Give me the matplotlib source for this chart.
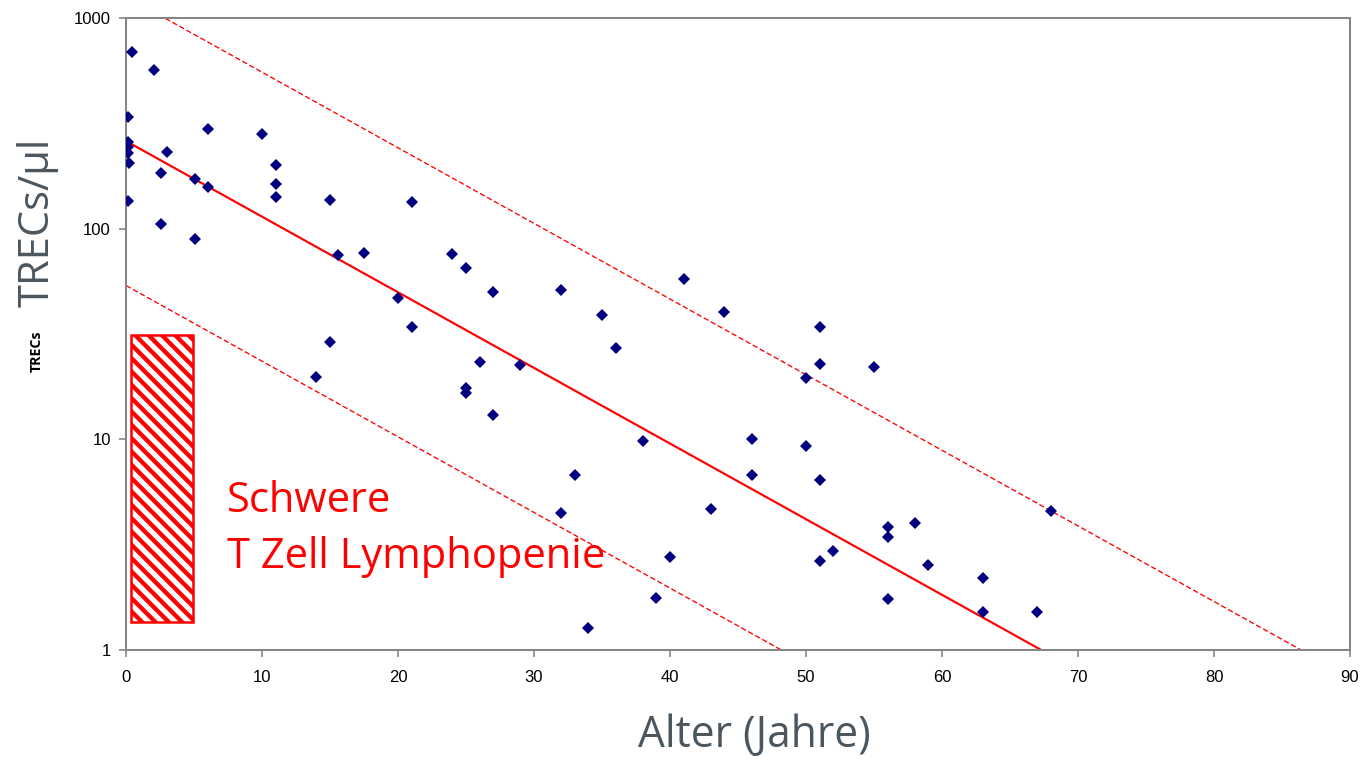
import numpy as np
import matplotlib
matplotlib.use('Agg')
import matplotlib.pyplot as plt
from matplotlib.patches import Rectangle

# Age (years) and TRECs/ul
age = [0.44, 2.06, 0.15, 0.15, 0.15, 0.15, 0.22, 0.15, 3.0, 2.57, 2.57, 5.07, 5.07,
       6.0, 6.0, 10.0, 11.0, 11.0, 11.0, 15.0, 21.0, 15.6, 17.5, 24.0, 25.0, 20.0,
       27.0, 32.0, 41.0, 44.0, 35.0, 36.0, 51.0, 21.0, 15.0, 26.0, 29.0, 51.0, 55.0,
       14.0, 50.0, 25.0, 25.0, 27.0, 38.0, 46.0, 50.0, 33.0, 46.0, 51.0, 32.0, 43.0,
       68.0, 56.0, 58.0, 56.0, 52.0, 40.0, 51.0, 59.0, 63.0, 39.0, 56.0, 63.0, 67.0, 34.0]
trecs = [690, 566, 339, 258, 244, 229, 205, 135, 231, 184, 105, 172, 89,
         297, 158, 282, 200, 163, 142, 137, 134, 75, 77, 76, 65, 47,
         50, 51, 58, 40, 39, 27, 34, 34, 29, 23.3, 22.5, 22.8, 22,
         19.8, 19.5, 17.5, 16.6, 13, 9.8, 10, 9.3, 6.8, 6.8, 6.4, 4.47, 4.67,
         4.57, 3.84, 4.0, 3.44, 2.95, 2.76, 2.64, 2.53, 2.2, 1.77, 1.75, 1.51, 1.51, 1.27]

# regression line (log10 scale) and upper / lower bands
fit_intercept = 2.416
fit_slope = -0.0359
band_offset = 0.686
line_x = [0, 90]

# severe lymphopenia box
box_age = [0.37, 4.93]
box_trecs = [1.36, 31.3]

x_ticks = [0, 10, 20, 30, 40, 50, 60, 70, 80, 90]
y_ticks = [1, 10, 100, 1000]
y_ticklabels = ['1', '10', '100', '1000']

DPI = 120
plt.rcParams['hatch.linewidth'] = 2.6
fig = plt.figure(figsize=(1360 / DPI, 759 / DPI), dpi=DPI)
ax = fig.add_axes([126 / 1360, 1 - 650 / 759, 1224 / 1360, 632 / 759])

ax.set_yscale('log')
ax.set_xlim(0, 90)
ax.set_ylim(1, 1000)

lx = np.array(line_x, dtype=float)
ax.plot(lx, 10 ** (fit_intercept + fit_slope * lx), color='red', lw=1.3)
for off in (band_offset, -band_offset):
    ax.plot(lx, 10 ** (fit_intercept + off + fit_slope * lx), color='red',
            lw=0.8, linestyle=(0, (4, 2)))

ax.plot(age, trecs, linestyle='none', marker='D', markersize=5.4,
        color='#000080', markeredgewidth=0, zorder=4)

ax.add_patch(Rectangle((box_age[0], box_trecs[0]), box_age[1] - box_age[0],
                       box_trecs[1] - box_trecs[0], facecolor='white',
                       edgecolor='red', hatch='\\\\\\', lw=1.5, zorder=3))

ax.text(7.43, 4.52, 'Schwere', color='red', fontsize=25, family='Open Sans',
        va='baseline', ha='left')
ax.text(7.43, 2.45, 'T Zell Lymphopenie', color='red', fontsize=25,
        family='Open Sans', va='baseline', ha='left')

ax.set_xticks(x_ticks)
ax.set_yticks(y_ticks)
ax.set_yticklabels(y_ticklabels)
ax.yaxis.set_minor_locator(matplotlib.ticker.NullLocator())
for s in ax.spines.values():
    s.set_color('#868686')
    s.set_linewidth(1.2)
ax.tick_params(axis='both', colors='#868686', labelcolor='black', length=4,
               width=1, labelsize=10)
ax.tick_params(axis='x', pad=8)
ax.tick_params(axis='y', pad=5)
for lab in ax.get_xticklabels() + ax.get_yticklabels():
    lab.set_family('Liberation Sans')

fig.text(754 / 1360, 1 - 747 / 759, 'Alter (Jahre)', color='#4b565f',
         fontsize=25.5, family='Open Sans', ha='center', va='baseline')
fig.text(38 / 1360, 1 - 222 / 759, 'TRECs/µl', color='#4b565f', fontsize=25,
         family='Open Sans', rotation=90, ha='center', va='center')
fig.text(37 / 1360, 1 - 351 / 759, 'TRECs', color='black', fontsize=8.5,
         family='Open Sans', weight='bold', rotation=90, ha='center', va='center')

fig.savefig('out.png', dpi=DPI)
